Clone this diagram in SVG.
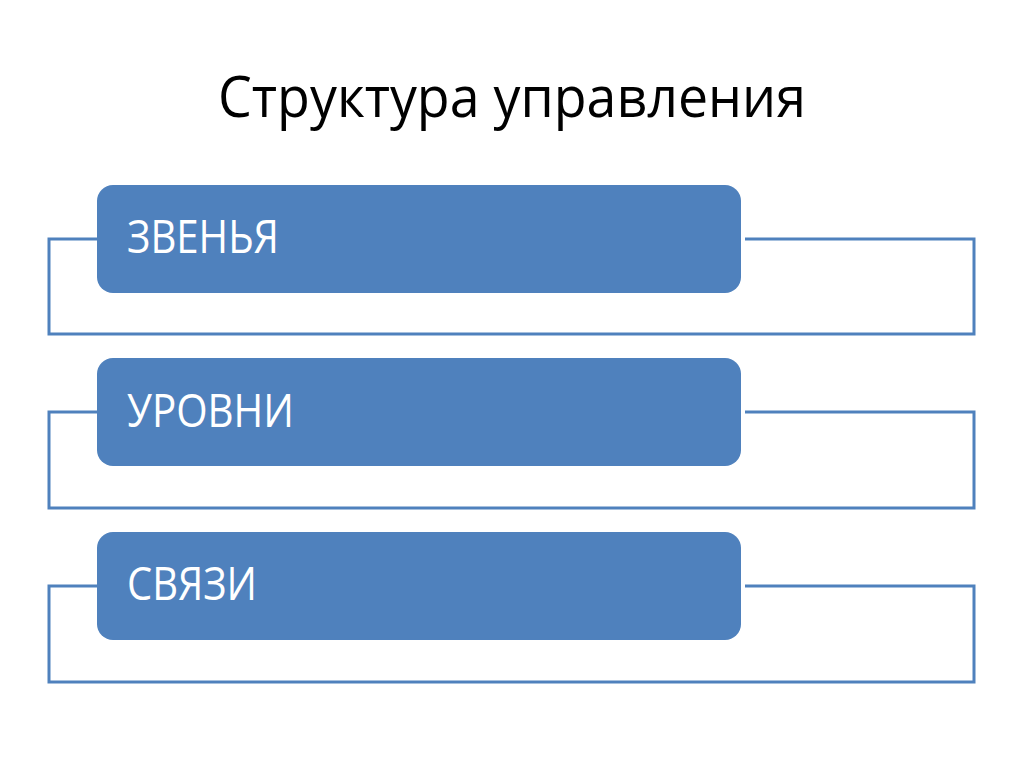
<svg xmlns="http://www.w3.org/2000/svg" width="1024" height="767" viewBox="0 0 1024 767">
<style>
.box{fill:#4F81BD;}
.lbl{font-family:"Open Sans","Liberation Sans",sans-serif;font-size:45px;fill:#ffffff;}
.title{font-family:"Open Sans","Liberation Sans",sans-serif;font-size:56px;fill:#000000;}
.conn{fill:none;stroke:#4F81BD;stroke-width:3;}
</style>
<rect x="0" y="0" width="1024" height="767" fill="#ffffff"/>
<text class="title" x="512" y="117" text-anchor="middle" textLength="588" lengthAdjust="spacingAndGlyphs">Структура управления</text>
<g id="connectors">
<polyline class="conn" points="97,239 49,239 49,334 974,334 974,239 745,239"/>
<polyline class="conn" points="97,412 49,412 49,508 974,508 974,412 745,412"/>
<polyline class="conn" points="97,586 49,586 49,682 974,682 974,586 745,586"/>
</g>
<g id="node1">
<rect class="box" x="97" y="185" width="644" height="108" rx="16"/>
<text class="lbl" x="127" y="253" textLength="152" lengthAdjust="spacingAndGlyphs">ЗВЕНЬЯ</text>
</g>
<g id="node2">
<rect class="box" x="97" y="358" width="644" height="108" rx="16"/>
<text class="lbl" x="127" y="427" textLength="167" lengthAdjust="spacingAndGlyphs">УРОВНИ</text>
</g>
<g id="node3">
<rect class="box" x="97" y="532" width="644" height="108" rx="16"/>
<text class="lbl" x="127" y="600" textLength="130" lengthAdjust="spacingAndGlyphs">СВЯЗИ</text>
</g>
</svg>
